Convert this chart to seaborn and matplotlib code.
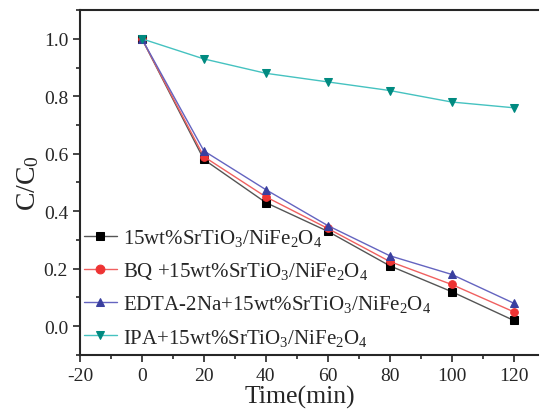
import matplotlib
matplotlib.use("Agg")
import matplotlib.pyplot as plt
from matplotlib.ticker import MultipleLocator, FormatStrFormatter
import seaborn as sns

# Data
time_min = [0, 20, 40, 60, 80, 100, 120]
ct_none = [1.0, 0.58, 0.43, 0.33, 0.21, 0.12, 0.02]
ct_bq = [1.0, 0.59, 0.45, 0.34, 0.225, 0.145, 0.05]
ct_edta = [1.0, 0.61, 0.475, 0.35, 0.245, 0.18, 0.08]
ct_ipa = [1.0, 0.93, 0.88, 0.85, 0.82, 0.78, 0.76]

labels = [
    "15wt%SrTiO$_3$/NiFe$_2$O$_4$",
    "BQ +15wt%SrTiO$_3$/NiFe$_2$O$_4$",
    "EDTA-2Na+15wt%SrTiO$_3$/NiFe$_2$O$_4$",
    "IPA+15wt%SrTiO$_3$/NiFe$_2$O$_4$",
]

sns.set_style("ticks")
plt.rcParams["font.family"] = ["Liberation Serif", "DejaVu Serif"]
plt.rcParams["mathtext.fontset"] = "custom"
plt.rcParams["mathtext.rm"] = "Liberation Serif"
plt.rcParams["mathtext.it"] = "Liberation Serif:italic"
plt.rcParams["axes.unicode_minus"] = False

fig = plt.figure(figsize=(5.4, 4.1), dpi=100)
ax = fig.add_axes([0.148, 0.132, 0.848, 0.841])

series = [
    (ct_none, "s", "#000000", "#555555"),
    (ct_bq, "o", "#ee3333", "#f06060"),
    (ct_edta, "^", "#3a3f9f", "#6464c0"),
    (ct_ipa, "v", "#008a80", "#45c2c0"),
]

for (vals, mk, mcol, lcol), lab in zip(series, labels):
    sns.lineplot(
        x=time_min, y=vals, ax=ax, label=lab,
        color=lcol, linewidth=1.0,
        marker=mk, markersize=5.5,
        markerfacecolor=mcol, markeredgecolor=mcol,
    )

ax.set_xlim(-20, 127.8)
ax.set_ylim(-0.1, 1.1)
ax.xaxis.set_major_locator(MultipleLocator(20))
ax.xaxis.set_minor_locator(MultipleLocator(10))
ax.yaxis.set_major_locator(MultipleLocator(0.2))
ax.yaxis.set_minor_locator(MultipleLocator(0.1))
ax.tick_params(which="major", length=5, width=1.2, labelsize=14, direction="out")
ax.tick_params(axis="x", which="major", pad=4)
ax.tick_params(which="minor", length=3, width=1.2, direction="out")
ax.yaxis.set_major_formatter(FormatStrFormatter("%.1f"))
for s in ax.spines.values():
    s.set_linewidth(1.5)
ax.spines["right"].set_visible(False)

ax.set_xlabel("Time(min)", fontsize=18.5)
ax.xaxis.set_label_coords(0.48, -0.086, transform=ax.transAxes)
ax.xaxis.label.set_verticalalignment("top")
ax.set_ylabel("C/C$_0$", fontsize=20, labelpad=2)

ax.legend(
    loc="lower left", bbox_to_anchor=(-0.01, -0.003), frameon=False,
    fontsize=15, handlelength=1.6, handletextpad=0.3,
    labelspacing=0.58, borderaxespad=0.0, markerscale=1.15,
)

fig.savefig("out.png", dpi=100)
